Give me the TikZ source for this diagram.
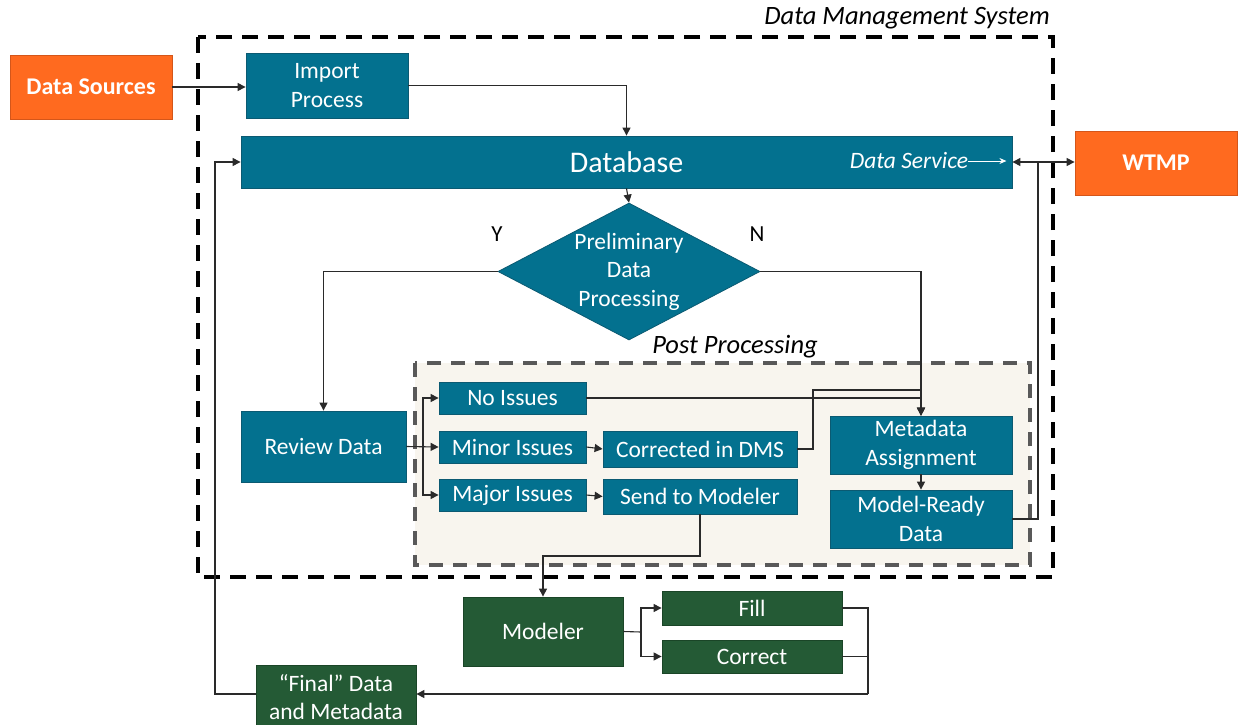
\documentclass[tikz,border=0pt]{standalone}
\usepackage{fontspec}
\setmainfont{Carlito}
\usetikzlibrary{arrows.meta,shapes.geometric,calc}
\definecolor{teal1}{HTML}{03718F}
\definecolor{teal2}{HTML}{0B5A72}
\definecolor{grn1}{HTML}{245A35}
\definecolor{grn2}{HTML}{1A4527}
\definecolor{org1}{HTML}{FF6A1F}
\definecolor{org2}{HTML}{D4561A}
\definecolor{beige}{HTML}{F8F5EE}
\definecolor{conn}{HTML}{2A2A2A}
\tikzset{
  body/.style={font=\fontsize{23.5}{28.5}\selectfont},
  tbox/.style={body, draw=teal2, fill=teal1, text=white, line width=0.8pt, inner sep=0pt, align=center},
  gbox/.style={body, draw=grn2, fill=grn1, text=white, line width=0.8pt, inner sep=0pt, align=center},
  obox/.style={font=\fontsize{24}{28}\selectfont\bfseries, draw=org2, fill=org1, text=white, line width=0.8pt, inner sep=0pt, align=center},
  arr/.style={draw=conn, line width=1.1pt, -{Triangle[length=8pt,width=8pt]}},
  ln/.style={draw=conn, line width=1.1pt},
}
\begin{document}
\begin{tikzpicture}[x=1pt,y=-1pt]
\useasboundingbox (0,0) rectangle (1239,725);
\clip (0,0) rectangle (1239,725);
% containers
\draw[black, line width=4pt, dash pattern=on 16pt off 10pt] (198,37) rectangle (1053,577);
\node[anchor=east, font=\fontsize{26.5}{30}\selectfont\itshape, inner sep=0pt] (dmsl) at (1050,18) {Data Management System};
\draw[draw=black!65, fill=beige, line width=3.5pt, dash pattern=on 14pt off 10pt] (415,363) rectangle (1030,565);
\node[font=\fontsize{26.5}{30}\selectfont\itshape, inner sep=0pt] (ppl) at (735,347) {Post Processing};

% nodes
\node[obox, minimum width=162, minimum height=64] (ds) at (91,87) {Data Sources};
\node[tbox, minimum width=162, minimum height=65] (imp) at (327,85.5) {Import\\Process};
\node[tbox, minimum width=771, minimum height=52, font=\fontsize{30}{34}\selectfont] (db) at (626.5,162) {Database};
\node[font=\fontsize{23.5}{28}\selectfont\itshape, text=white, inner sep=0pt] (dsv) at (909,161) {Data Service};
\node[obox, minimum width=162, minimum height=64] (wtmp) at (1156,163) {WTMP};
\node[diamond, draw=teal2, fill=teal1, line width=0.8pt, inner sep=0pt, minimum width=262, minimum height=137] (pdp) at (629,271.5) {};
\node[body, text=white, align=center] (pdpt) at (pdp) {Preliminary\\Data\\Processing};
\node[font=\fontsize{23}{26}\selectfont] (ylab) at (497,234) {Y};
\node[font=\fontsize{23}{26}\selectfont] (nlab) at (757,234) {N};
\node[tbox, minimum width=165, minimum height=71] (rev) at (323.5,446.5) {Review Data};
\node[tbox, minimum width=147, minimum height=32] (noi) at (512.5,398) {No Issues};
\node[tbox, minimum width=147, minimum height=32] (mino) at (512.5,447) {Minor Issues};
\node[tbox, minimum width=147, minimum height=32] (majo) at (512.5,495) {Major Issues};
\node[tbox, minimum width=194, minimum height=36] (corr) at (700,449) {Corrected in DMS};
\node[tbox, minimum width=194, minimum height=35] (send) at (700,496.5) {Send to Modeler};
\node[tbox, minimum width=182, minimum height=58] (meta) at (921,445) {Metadata\\Assignment};
\node[tbox, minimum width=182, minimum height=58] (mr) at (921,519) {Model-Ready\\Data};
\node[gbox, minimum width=160, minimum height=69] (mod) at (543,631.5) {Modeler};
\node[gbox, minimum width=180, minimum height=34] (fill) at (752,608) {Fill};
\node[gbox, minimum width=180, minimum height=33] (cor2) at (752,656.5) {Correct};
\node[gbox, minimum width=160, minimum height=64] (fin) at (336,697) {“Final” Data\\and Metadata};

% coordinates
\coordinate (rb) at (423,447);
\coordinate (cj) at (813,390);
\coordinate (mrj) at (1038,519);
\coordinate (sj) at (700,556);
\coordinate (mb) at (641,632);
\coordinate (fj) at (868,608);
\coordinate (fb) at (868,694);
\coordinate (lj) at (215,694);

% connectors
\draw[arr] (ds.east) -- (ds.east -| imp.west);
\draw[arr] (imp.east) -| (db.north);
\draw[arr] (db.south) -- (pdp.north);
\draw[arr] (pdp.west) -| (rev.north);
\draw[arr] (pdp.east) -| (meta.north);
\draw[arr] (rev.east) -- (mino.west);
\draw[arr] (rb) |- (noi.west);
\draw[arr] (rb) |- (majo.west);
\draw[arr] (noi.east) -| (meta.north);
\draw[arr] (corr.east) -| (cj) -| (meta.north);
\draw[arr] (mino.east) -- (corr.west);
\draw[arr] (majo.east) -- (send.west);
\draw[arr] (meta.south) -- (mr.north);
\draw[ln] (mr.east) -- (mrj) -- (mrj |- db.east);
\draw[draw=conn, line width=1.1pt, {Triangle[length=8pt,width=8pt]}-{Triangle[length=8pt,width=8pt]}] (db.east) -- (db.east -| wtmp.west);
\draw[draw=white, line width=1pt, -{Stealth[length=7pt,width=6pt]}, shorten >=6pt] (dsv.east) -- (dsv.east -| db.east);
\draw[arr] (send.south) -- (sj) -| (mod.north);
\draw[ln] (mod.east) -- (mb);
\draw[arr] (mb) |- (fill.west);
\draw[arr] (mb) |- (cor2.west);
\draw[ln] (fill.east) -- (fj) -- (fb);
\draw[ln] (cor2.east) -| (fj);
\draw[arr] (fb) -- (fb -| fin.east);
\draw[arr] (fin.west |- lj) -- (lj) |- (db.west);
\end{tikzpicture}
\end{document}
